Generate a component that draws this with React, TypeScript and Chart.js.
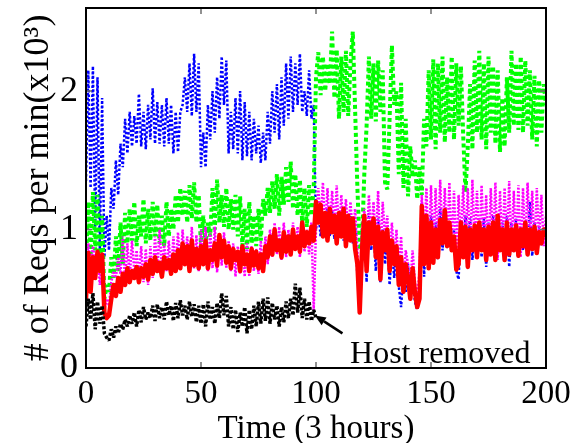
import React, { useEffect, useRef } from "react";
import { Chart, registerables } from "chart.js";

Chart.register(...registerables);

// Requests per minute (x10^3), one sample per time step 0..200
const blueSeries = [
  1.35, 2.15, 1.30, 2.18, 1.00, 2.10, 0.85, 1.95, 0.80, 1.10,
  0.85, 1.30, 1.15, 1.50, 1.25, 1.62, 1.45, 1.80, 1.55, 1.85,
  1.60, 1.82, 1.62, 1.98, 1.60, 1.85, 1.58, 1.90, 1.65, 2.02,
  1.62, 1.92, 1.62, 1.90, 1.60, 1.95, 1.62, 1.90, 1.55, 1.85,
  1.56, 1.85, 1.90, 2.10, 1.85, 2.20, 1.82, 2.27, 1.85, 2.20,
  1.45, 1.70, 1.45, 1.90, 1.65, 2.00, 1.70, 2.10, 1.80, 2.25,
  1.90, 2.22, 1.55, 1.85, 1.58, 1.95, 1.55, 2.00, 1.50, 1.92,
  1.53, 1.85, 1.50, 1.80, 1.55, 1.75, 1.48, 1.70, 1.50, 1.85,
  1.62, 2.00, 1.70, 2.05, 1.65, 2.10, 1.75, 2.20, 1.80, 2.25,
  1.85, 2.20, 1.90, 2.27, 1.85, 2.00, 1.82, 2.15, 1.80, 1.90,
  1.00, 1.15, 0.95, 1.12, 0.98, 1.15, 0.95, 1.14, 0.93, 1.10,
  0.95, 1.12, 0.92, 1.08, 0.95, 1.10, 0.90, 1.05, 0.66, 0.55,
  0.90, 1.10, 0.62, 1.12, 0.85, 1.05, 0.70, 1.08, 0.62, 1.00,
  0.75, 0.95, 0.60, 0.88, 0.65, 0.85, 0.59, 0.44, 0.70, 0.55,
  0.75, 0.50, 0.65, 0.48, 0.42, 0.50, 1.20, 0.66, 1.05, 0.75,
  1.10, 0.80, 1.05, 0.78, 1.15, 0.85, 1.10, 0.90, 1.05, 0.85,
  1.00, 0.70, 0.64, 1.05, 0.80, 1.10, 0.85, 1.08, 0.78, 1.00,
  0.85, 1.05, 0.80, 1.08, 0.73, 1.05, 0.85, 1.10, 0.80, 1.00,
  0.85, 1.05, 0.78, 1.10, 0.73, 1.05, 0.85, 1.08, 0.80, 1.02,
  0.85, 1.05, 0.82, 1.20, 0.81, 1.05, 0.85, 1.02, 0.88, 1.00,
  0.95,
];

const redSeries = [
  0.50, 0.83, 0.55, 0.80, 0.65, 0.84, 0.70, 0.82, 0.40, 0.36,
  0.38, 0.50, 0.60, 0.52, 0.65, 0.55, 0.68, 0.60, 0.72, 0.62,
  0.70, 0.65, 0.73, 0.62, 0.72, 0.66, 0.75, 0.64, 0.78, 0.68,
  0.80, 0.70, 0.76, 0.66, 0.80, 0.72, 0.78, 0.68, 0.82, 0.70,
  0.85, 0.72, 0.90, 0.75, 0.88, 0.70, 0.92, 0.74, 0.86, 0.72,
  0.88, 0.75, 0.92, 0.72, 0.85, 0.78, 0.90, 0.74, 0.96, 0.80,
  0.92, 0.76, 0.88, 0.72, 0.86, 0.78, 0.84, 0.70, 0.88, 0.75,
  0.82, 0.70, 0.86, 0.74, 0.84, 0.72, 0.82, 0.70, 0.88, 0.80,
  0.95, 0.82, 1.00, 0.85, 0.92, 0.80, 0.98, 0.84, 0.95, 0.82,
  1.00, 0.86, 0.95, 0.84, 1.05, 0.88, 0.98, 0.90, 1.02, 0.92,
  1.20, 1.05, 1.18, 0.95, 1.12, 0.92, 1.15, 0.98, 1.10, 0.90,
  1.12, 0.95, 1.15, 0.88, 1.10, 0.92, 1.08, 0.86, 0.75, 0.40,
  0.85, 1.10, 0.70, 1.05, 0.90, 1.08, 0.80, 1.02, 0.64, 0.98,
  0.85, 1.00, 0.70, 0.92, 0.75, 0.88, 0.60, 0.80, 0.55, 0.75,
  0.65, 0.50, 0.72, 0.55, 0.44, 0.50, 1.17, 0.75, 1.10, 0.72,
  1.05, 0.76, 1.00, 0.80, 1.07, 0.90, 1.14, 0.88, 1.05, 0.85,
  0.95, 0.71, 0.75, 1.05, 0.80, 1.02, 0.73, 1.00, 0.85, 1.03,
  0.80, 1.05, 0.85, 1.00, 0.78, 1.02, 0.82, 1.05, 0.78, 1.10,
  0.85, 1.00, 0.78, 1.05, 0.82, 1.00, 0.85, 1.03, 0.81, 1.00,
  0.88, 1.05, 0.82, 1.00, 0.86, 1.02, 0.83, 0.98, 0.90, 1.00,
  0.95,
];

const magentaSeries = [
  0.75, 0.90, 0.73, 0.88, 0.78, 0.85, 0.60, 0.80, 0.42, 0.50,
  0.45, 0.62, 0.70, 0.65, 0.80, 0.68, 0.95, 0.62, 0.90, 0.65,
  0.92, 0.70, 0.85, 0.66, 0.88, 0.62, 0.86, 0.60, 0.88, 0.65,
  0.95, 0.70, 1.00, 0.72, 0.90, 0.70, 0.92, 0.68, 0.95, 0.72,
  0.98, 0.72, 1.00, 0.76, 0.95, 0.74, 1.02, 0.72, 0.96, 0.70,
  1.00, 0.74, 1.02, 0.70, 0.98, 0.72, 1.02, 0.69, 0.96, 0.74,
  0.98, 0.72, 0.92, 0.70, 0.90, 0.66, 0.88, 0.68, 0.86, 0.66,
  0.90, 0.66, 0.88, 0.70, 0.86, 0.68, 0.92, 0.69, 0.95, 0.75,
  1.00, 0.80, 1.05, 0.82, 1.02, 0.78, 1.05, 0.80, 1.00, 0.82,
  1.05, 0.85, 1.02, 0.80, 1.05, 0.84, 1.00, 0.82, 1.05, 0.42,
  1.00, 1.30, 1.05, 1.34, 1.00, 1.30, 0.98, 1.28, 1.00, 1.32,
  0.95, 1.25, 1.00, 1.22, 0.98, 1.20, 0.95, 1.15, 0.85, 0.50,
  1.00, 1.15, 0.85, 1.25, 0.95, 1.20, 0.90, 1.28, 0.80, 1.20,
  0.95, 1.10, 0.75, 1.05, 0.80, 1.00, 0.70, 0.95, 0.60, 0.85,
  0.75, 0.60, 0.85, 0.62, 0.50, 0.70, 1.25, 0.85, 1.30, 0.80,
  1.32, 0.85, 1.30, 0.88, 1.36, 0.92, 1.30, 0.90, 1.34, 0.85,
  1.28, 0.80, 1.25, 0.90, 1.32, 0.88, 1.30, 0.82, 1.36, 0.90,
  1.28, 0.85, 1.32, 0.88, 1.25, 0.80, 1.30, 0.86, 1.34, 0.78,
  1.28, 0.85, 1.30, 0.90, 1.35, 0.84, 1.28, 0.88, 1.32, 0.80,
  1.30, 0.86, 1.34, 0.90, 1.28, 0.85, 1.30, 0.92, 1.25, 0.88,
  1.10,
];

const greenSeries = [
  0.75, 1.20, 0.80, 1.27, 0.85, 1.25, 0.72, 1.10, 0.50, 0.60,
  0.55, 0.80, 0.65, 0.95, 0.70, 1.05, 0.75, 1.12, 0.90, 1.15,
  0.92, 1.20, 0.88, 1.10, 0.95, 1.22, 0.90, 1.15, 0.92, 1.20,
  0.95, 1.18, 0.90, 1.10, 0.88, 1.20, 0.95, 1.15, 1.00, 1.25,
  1.05, 1.30, 1.10, 1.28, 1.05, 1.32, 1.08, 1.34, 1.05, 1.25,
  0.88, 1.10, 0.90, 1.05, 0.95, 1.30, 1.00, 1.36, 1.05, 1.25,
  1.02, 1.30, 1.00, 1.22, 1.00, 1.25, 0.95, 1.24, 0.88, 1.15,
  0.86, 1.20, 0.90, 1.10, 0.88, 1.15, 0.92, 1.22, 1.10, 1.30,
  1.12, 1.35, 1.15, 1.40, 1.10, 1.38, 1.18, 1.45, 1.20, 1.49,
  1.15, 1.40, 1.10, 1.36, 1.05, 1.30, 1.02, 1.32, 1.10, 1.30,
  2.10, 2.28, 1.97, 2.25, 2.00, 2.20, 2.05, 2.43, 1.95, 2.30,
  1.80, 2.25, 1.85, 2.29, 1.82, 2.20, 2.43, 1.87, 1.30, 0.86,
  0.90, 1.40, 1.75, 2.25, 1.80, 2.20, 1.78, 2.22, 1.85, 2.15,
  1.34, 1.29, 1.80, 2.33, 1.90, 2.00, 1.40, 2.06, 1.30, 1.80,
  1.24, 1.60, 1.38, 1.50, 1.22, 1.45, 1.25, 1.80, 1.60, 2.15,
  1.65, 2.23, 1.58, 2.20, 1.70, 2.25, 1.63, 2.10, 1.70, 2.25,
  1.65, 2.20, 1.75, 2.18, 1.68, 1.27, 1.60, 2.05, 1.58, 2.22,
  1.70, 2.29, 1.65, 2.20, 1.58, 2.25, 1.70, 2.18, 1.62, 2.15,
  1.56, 1.95, 1.60, 2.10, 1.70, 2.29, 1.75, 2.20, 1.72, 2.25,
  1.70, 2.22, 1.75, 2.15, 1.65, 2.11, 1.60, 2.08, 1.70, 2.05,
  1.90,
];

// The removed host: only runs for time 0..100
const blackSeries = [
  0.30, 0.50, 0.35, 0.54, 0.28, 0.48, 0.32, 0.45, 0.25, 0.22,
  0.20, 0.28, 0.22, 0.30, 0.25, 0.32, 0.28, 0.35, 0.30, 0.38,
  0.32, 0.40, 0.30, 0.42, 0.33, 0.44, 0.35, 0.40, 0.36, 0.45,
  0.34, 0.46, 0.36, 0.44, 0.35, 0.48, 0.38, 0.45, 0.34, 0.47,
  0.36, 0.49, 0.38, 0.45, 0.35, 0.48, 0.37, 0.46, 0.33, 0.45,
  0.32, 0.46, 0.30, 0.48, 0.35, 0.44, 0.32, 0.47, 0.36, 0.54,
  0.38, 0.52, 0.30, 0.44, 0.28, 0.42, 0.26, 0.40, 0.30, 0.44,
  0.25, 0.42, 0.28, 0.45, 0.30, 0.48, 0.32, 0.50, 0.34, 0.51,
  0.32, 0.47, 0.35, 0.45, 0.30, 0.44, 0.33, 0.48, 0.36, 0.50,
  0.38, 0.61, 0.40, 0.58, 0.36, 0.50, 0.35, 0.48, 0.34, 0.42,
  0.36,
];

const xTicks = [0, 50, 100, 150, 200];
const yTicks = [0, 1, 2];
const xTitle = "Time (3 hours)";
const yTitle = "# of Reqs per min(x10\u00B3)";
const noteText = "Host removed";
const notePos = { x: 114.8, y: 0.035 };
const arrowFrom = { x: 111.5, y: 0.25 };
const arrowTo = { x: 99.5, y: 0.38 };

const SERIF = "'Liberation Serif', 'Times New Roman', serif";

function toPoints(values: number[]) {
  return values.map((v, i) => ({ x: i, y: v }));
}

const framePlugin = {
  id: "frameAndNote",
  afterDraw(chart: any) {
    const { ctx, chartArea: a, scales } = chart;
    const sx = scales.x;
    const sy = scales.y;
    ctx.save();
    // inward tick marks on all four sides
    ctx.strokeStyle = "#6e6e6e";
    ctx.lineWidth = 1.5;
    ctx.beginPath();
    xTicks.slice(1, -1).forEach((v) => {
      const px = sx.getPixelForValue(v);
      ctx.moveTo(px, a.bottom);
      ctx.lineTo(px, a.bottom - 6);
      ctx.moveTo(px, a.top);
      ctx.lineTo(px, a.top + 6);
    });
    yTicks.slice(1).forEach((v) => {
      const py = sy.getPixelForValue(v);
      ctx.moveTo(a.left, py);
      ctx.lineTo(a.left + 6, py);
      ctx.moveTo(a.right, py);
      ctx.lineTo(a.right - 6, py);
    });
    ctx.stroke();
    // frame
    ctx.strokeStyle = "#000";
    ctx.lineWidth = 2;
    ctx.strokeRect(a.left, a.top, a.right - a.left, a.bottom - a.top);

    // annotation arrow
    const fx = sx.getPixelForValue(arrowFrom.x);
    const fy = sy.getPixelForValue(arrowFrom.y);
    const tx = sx.getPixelForValue(arrowTo.x);
    const ty = sy.getPixelForValue(arrowTo.y);
    const ang = Math.atan2(ty - fy, tx - fx);
    const head = 11;
    const bx = tx - head * Math.cos(ang);
    const by = ty - head * Math.sin(ang);
    ctx.strokeStyle = "#000";
    ctx.lineWidth = 2.5;
    ctx.beginPath();
    ctx.moveTo(fx, fy);
    ctx.lineTo(bx, by);
    ctx.stroke();
    ctx.fillStyle = "#000";
    ctx.beginPath();
    ctx.moveTo(tx, ty);
    ctx.lineTo(bx + 4.5 * Math.sin(ang), by - 4.5 * Math.cos(ang));
    ctx.lineTo(bx - 4.5 * Math.sin(ang), by + 4.5 * Math.cos(ang));
    ctx.closePath();
    ctx.fill();

    ctx.font = `32px ${SERIF}`;
    ctx.textAlign = "left";
    ctx.textBaseline = "alphabetic";
    ctx.fillText(noteText, sx.getPixelForValue(notePos.x), sy.getPixelForValue(notePos.y));
    ctx.restore();
  },
};

export default function App() {
  const ref = useRef<HTMLCanvasElement | null>(null);

  useEffect(() => {
    document.body.style.margin = "0";
    const canvas = ref.current;
    if (!canvas) return;
    const chart = new Chart(canvas, {
      type: "line",
      data: {
        datasets: [
          {
            label: "removed host",
            data: toPoints(blackSeries),
            borderColor: "#000000",
            borderWidth: 3.5,
            borderDash: [3, 2],
            borderJoinStyle: "bevel",
            order: 0,
          },
          {
            label: "red",
            data: toPoints(redSeries),
            borderColor: "#ff0000",
            borderWidth: 4.5,
            borderJoinStyle: "round",
            order: 1,
          },
          {
            label: "magenta",
            data: toPoints(magentaSeries),
            borderColor: "#ff00ff",
            borderWidth: 2.5,
            borderDash: [2, 1.5],
            borderJoinStyle: "bevel",
            order: 2,
          },
          {
            label: "green",
            data: toPoints(greenSeries),
            borderColor: "#00ff00",
            borderWidth: 4,
            borderDash: [4, 3],
            borderJoinStyle: "bevel",
            order: 3,
          },
          {
            label: "blue",
            data: toPoints(blueSeries),
            borderColor: "#0000ff",
            borderWidth: 2.5,
            borderDash: [2.5, 2],
            borderJoinStyle: "bevel",
            order: 4,
          },
        ] as any,
      },
      options: {
        animation: false,
        responsive: false,
        devicePixelRatio: 1,
        layout: { padding: { top: 8, right: 26, left: 0, bottom: 0 } },
        elements: { point: { radius: 0 }, line: { tension: 0 } },
        plugins: { legend: { display: false }, tooltip: { enabled: false } },
        scales: {
          x: {
            type: "linear",
            min: 0,
            max: 200,
            afterFit: (s: any) => {
              s.height = 75;
              s.paddingLeft = 0;
              s.paddingRight = 0;
            },
            afterBuildTicks: (s: any) => {
              s.ticks = xTicks.map((v) => ({ value: v }));
            },
            grid: { display: false, drawTicks: false },
            border: { display: false },
            ticks: {
              color: "#000",
              padding: 7,
              font: { family: SERIF, size: 33 },
              maxRotation: 0,
              autoSkip: false,
            },
            title: {
              display: true,
              text: xTitle,
              color: "#000",
              font: { family: SERIF, size: 33, lineHeight: 1.2 },
              padding: { top: 0, bottom: -6 },
            },
          },
          y: {
            type: "linear",
            min: 0,
            max: 2.6,
            afterFit: (s: any) => {
              s.width = 86;
              s.paddingTop = 0;
              s.paddingBottom = 0;
            },
            afterBuildTicks: (s: any) => {
              s.ticks = yTicks.map((v) => ({ value: v }));
            },
            grid: { display: false, drawTicks: false },
            border: { display: false },
            ticks: {
              color: "#000",
              padding: 8,
              labelOffset: 0,
              font: { family: SERIF, size: 36 },
              autoSkip: false,
            },
            title: {
              display: true,
              text: yTitle,
              color: "#000",
              font: { family: SERIF, size: 36, lineHeight: 1.2 },
              padding: { top: 17, bottom: 0 },
            },
          },
        },
      },
      plugins: [framePlugin],
    } as any);
    return () => chart.destroy();
  }, []);

  return <canvas ref={ref} width={572} height={443} style={{ display: "block" }} />;
}
